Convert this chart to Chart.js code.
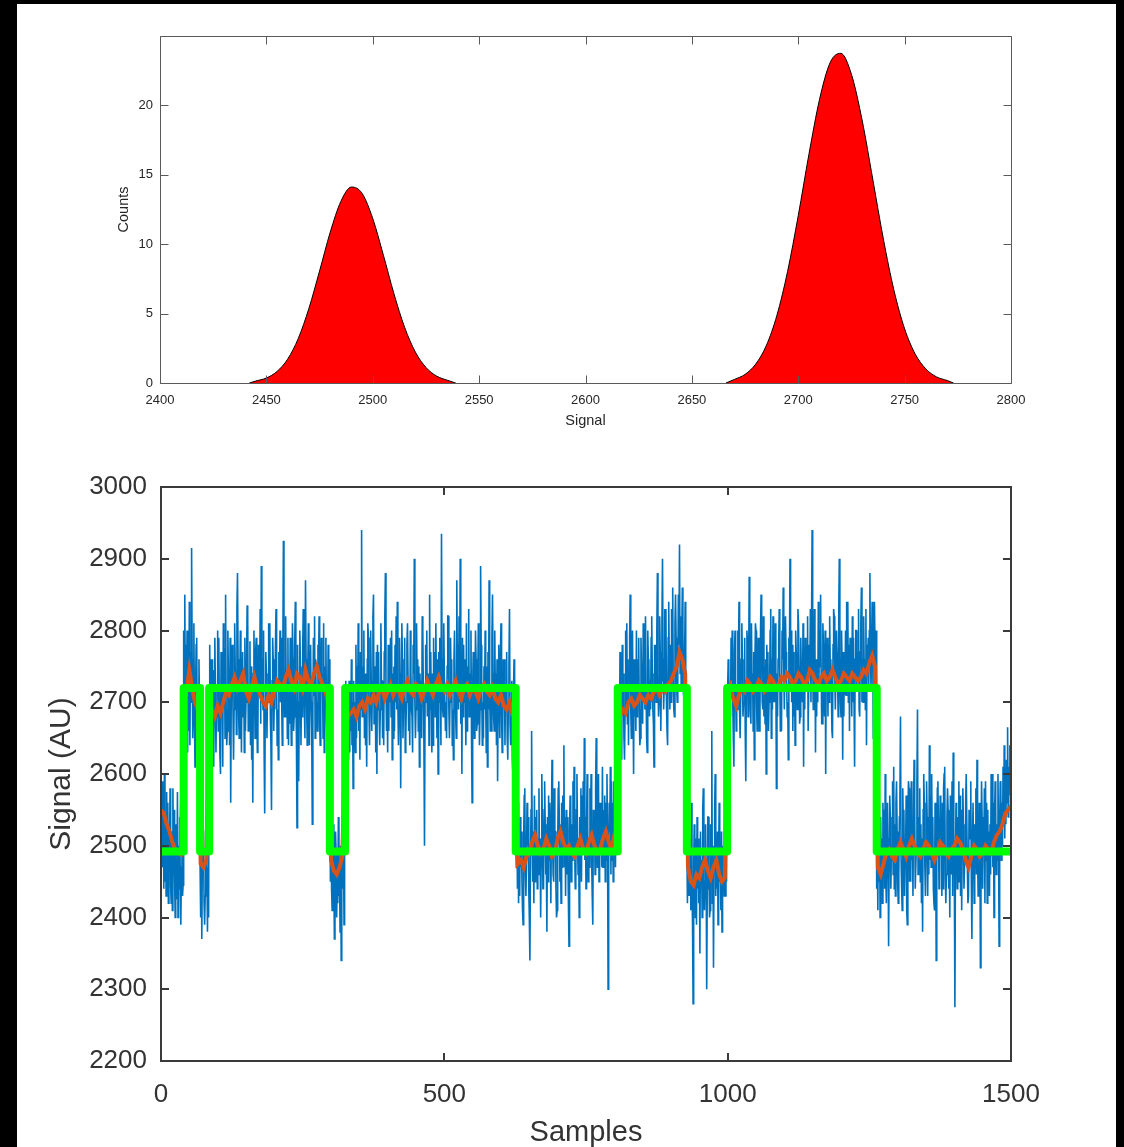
<!DOCTYPE html>
<html><head><meta charset="utf-8">
<script src="https://cdn.jsdelivr.net/npm/chart.js@4.4.1/dist/chart.umd.min.js"></script>
<style>
html,body{margin:0;padding:0;background:#000;width:1124px;height:1147px;overflow:hidden;}
#panel{position:absolute;left:17px;top:4px;width:1099px;height:1143px;background:#fff;}
canvas{position:absolute;left:0;}
#top{top:0;}
#bottom{top:440px;}
</style></head><body>
<div id="panel"></div>
<canvas id="top" width="1124" height="440" style="width:1124px;height:440px"></canvas>
<canvas id="bottom" width="1124" height="707" style="width:1124px;height:707px"></canvas>
<script>
// ---------- Top chart: histogram of signal levels ----------
const peak1X = [2442,2445,2450,2455,2460,2465,2470,2475,2480,2485,2490,2495,2500,2505,2510,2515,2520,2525,2530,2535,2539];
const peak1Y = [0,0.14,0.36,0.83,1.72,3.21,5.38,8.07,10.86,13.08,14.12,13.66,11.85,9.21,6.41,4.00,2.24,1.12,0.50,0.20,0];
const peak2X = [2666,2670,2675,2680,2685,2690,2695,2700,2705,2710,2715,2720,2725,2730,2735,2740,2745,2750,2755,2760,2765,2770,2773];
const peak2Y = [0,0.26,0.62,1.36,2.70,4.89,8.05,12.06,16.46,20.43,23.09,23.75,22.24,18.95,14.70,10.38,6.67,3.90,2.08,1.01,0.44,0.18,0];
const histXTicks = {min:2400, max:2800, step:50};
const histYTicks = {min:0, max:25, step:5};

// ---------- Bottom chart: time trace (one value per sample) ----------
const blueSignal = [
2545,2480,2590,2470,2560,2440,2600,2450,2540,2430,2575,2470,2560,2420,2530,2495,2580,2445,2420,2520,2410,2580,2460,2550,2455,2400,2530,2510,2425,2575,
2400,2500,2440,2540,2455,2390,2470,2560,2430,2445,2800,2680,
2850,2690,2780,2690,2800,2630,2760,2660,2840,2640,2770,2700,2915,2760,2650,2700,2810,2680,2610,2720,2780,2790,2650,2640,2670,2760,2690,
2470,2400,2545,2370,2490,2520,2520,2420,2390,2430,2540,2460,2480,2380,2470,2400,2700,2780,
2650,2760,2680,2760,2640,2745,2610,2710,2790,2720,2630,2700,2680,2800,2660,2790,2690,2625,2600,2770,2720,2740,2610,2810,2700,2775,2650,2850,2690,2640,
2660,2800,2735,2730,2640,2790,2560,2710,2760,2780,2690,2620,2690,2810,2745,2740,2655,2830,2880,2760,2680,2650,2720,2800,2720,2630,2760,2770,2680,2740,
2630,2790,2660,2700,2750,2835,2820,2660,2710,2680,2785,2640,2750,2620,2700,2560,2740,2800,2730,2650,2770,2790,2690,2630,2660,2780,2745,2720,2830,2670,
2890,2700,2760,2690,2800,2630,2545,2690,2770,2740,2650,2720,2700,2810,2760,2810,2680,2640,2550,2730,2790,2760,2660,2700,2690,2780,2830,2730,2640,2690,
2620,2770,2720,2800,2700,2790,2700,2640,2760,2925,2750,2680,2680,2820,2700,2740,2650,2790,2640,2730,2670,2790,2700,2640,2710,2810,2760,2660,2680,2780,
2840,2710,2650,2525,2780,2690,2590,2700,2800,2750,2640,2725,2680,2770,2830,2730,2690,2650,2870,2760,2700,2640,2740,2810,2720,2640,2770,2780,2700,2660,
2530,2690,2790,2710,2820,2650,2760,2700,2680,2660,2780,2750,2820,2670,2640,2700,2790,2720,2740,2650,2810,2630,2750,2700,2790,2680,2640,2680,2780,2720,
2760,2540,2450,
2560,2440,2410,2450,2530,2460,2370,2480,2520,2490,2400,2455,2420,2540,2430,2470,2380,2500,2340,2460,2525,2440,2510,2390,2520,2660,2730,
2600,2700,2640,2690,2620,2730,2630,2720,2660,2760,2640,2700,2580,2730,2670,2700,2630,2780,2650,2750,2690,2810,2660,2720,2620,2770,2690,2940,2680,2750,
2680,2800,2650,2740,2640,2700,2610,2760,2810,2790,2690,2640,2700,2800,2730,2660,2720,2820,2850,2670,2750,2720,2630,2770,2600,2780,2690,2770,2680,2640,
2690,2810,2730,2730,2650,2700,2640,2770,2820,2880,2720,2660,2710,2630,2780,2660,2760,2700,2790,2680,2800,2620,2740,2650,2750,2660,2780,2700,2820,2690,
2840,2700,2640,2680,2790,2740,2580,2720,2810,2760,2650,2700,2720,2790,2630,2650,2700,2780,2810,2730,2660,2700,2640,2800,2740,2690,2680,2630,2780,2740,
2900,2700,2650,2690,2810,2720,2760,2660,2750,2610,2740,2690,2730,2650,2820,2800,2710,2640,2500,2700,2780,2720,2800,2680,2680,2740,2640,2850,2690,2770,
2700,2630,2740,2640,2790,2710,2770,2680,2810,2720,2650,2760,2600,2770,2700,2790,2720,2640,2935,2760,2690,2680,2810,2740,2740,2660,2700,2650,2750,2820,
2820,2690,2650,2700,2790,2730,2760,2640,2690,2620,2760,2800,2730,2680,2650,2870,2740,2780,2690,2820,2700,2900,2670,2750,2600,2790,2680,2780,2700,2760,
2710,2640,2810,2660,2750,2700,2830,2680,2740,2700,2800,2650,2560,2720,2770,2740,2650,2700,2800,2760,2660,2670,2730,2810,2720,2640,2690,2890,2780,2720,
2640,2700,2650,2750,2690,2800,2700,2630,2750,2610,2770,2690,2870,2720,2660,2720,2660,2790,2850,2740,2680,2660,2800,2710,2740,2640,2760,2590,2710,2780,
2700,2650,2770,2810,2690,2630,2650,2760,2700,2760,2640,2720,2690,2770,2650,2620,2700,2750,2830,2670,2640,2680,2730,2620,2600,2710,2760,2740,2660,2500,
2470,2550,2440,2560,2420,2510,2430,2540,2470,2520,2450,2410,2390,2510,2570,2580,2460,2430,2480,2560,2500,2540,2440,2400,2340,2480,2550,2660,2520,2450,
2500,2420,2570,2450,2540,2480,2550,2440,2510,2460,2580,2470,2510,2400,2490,2600,2530,2440,2440,2550,2590,2530,2460,2480,2380,2540,2450,2570,2480,2560,
2490,2420,2540,2620,2510,2460,2450,2580,2520,2520,2440,2400,2410,2500,2580,2590,2530,2450,2500,2420,2560,2470,2570,2500,2640,2470,2540,2430,2550,2460,
2540,2490,2420,2360,2520,2570,2560,2450,2530,2480,2590,2490,2610,2500,2440,2450,2550,2600,2520,2460,2510,2400,2540,2480,2580,2450,2570,2490,2590,2500,
2650,2480,2540,2440,2530,2600,2530,2450,2500,2470,2580,2530,2600,2480,2430,2390,2550,2510,2550,2460,2580,2650,2520,2470,2520,2600,2450,2460,2560,2500,
2540,2470,2610,2470,2550,2490,2570,2450,2560,2480,2600,2510,2300,2470,2560,2520,2610,2460,2590,2480,2560,2450,2590,2520,2610,2470,2580,2500,2560,2700,
2650,2720,2640,2770,2660,2730,2620,2780,2690,2740,2650,2620,2690,2800,2720,2810,2670,2760,2640,2740,2790,2850,2690,2650,2760,2800,2700,2600,2760,2680,
2730,2660,2800,2680,2760,2700,2790,2690,2640,2650,2790,2740,2740,2670,2810,2700,2760,2690,2820,2720,2650,2630,2800,2760,2750,2680,2730,2690,2790,2820,
2740,2690,2670,2610,2780,2750,2780,2700,2800,2880,2740,2680,2700,2820,2770,2660,2730,2810,2900,2760,2690,2720,2830,2760,2830,2700,2660,2640,2790,2840,
2750,2690,2780,2700,2830,2740,2860,2720,2690,2680,2810,2850,2790,2720,2700,2740,2850,2780,2920,2740,2820,2720,2790,2860,2800,2710,2770,2760,2840,2700,
2690,2500,2420,
2520,2430,2500,2430,2510,2410,2560,2450,2390,2280,2470,2530,2470,2400,2510,2390,2540,2440,2510,2420,2480,2350,2520,2450,2480,2400,2550,2580,2450,2410,
2450,2530,2470,2300,2440,2540,2540,2460,2400,2410,2530,2470,2660,2420,2500,2330,2480,2550,2600,2430,2500,2440,2520,2390,2470,2560,2450,2470,2410,2520,
2380,2500,2440,2520,2430,2510,2430,2500,2450,
2620,2720,2760,2740,2650,2700,2680,2790,2730,2800,2700,2650,2610,2770,2800,2730,2660,2720,2690,2800,2760,2840,2690,2650,2650,2760,2810,2760,2680,2700,
2700,2790,2660,2590,2730,2800,2780,2680,2740,2875,2760,2690,2670,2810,2720,2740,2660,2770,2620,2750,2810,2800,2700,2660,2710,2790,2750,2660,2690,2800,
2850,2760,2700,2690,2820,2680,2750,2670,2760,2600,2780,2730,2770,2660,2700,2720,2800,2830,2650,2760,2690,2820,2700,2770,2700,2810,2750,2580,2740,2680,
2760,2780,2830,2730,2660,2720,2660,2800,2760,2860,2750,2690,2690,2820,2770,2740,2680,2700,2620,2790,2760,2900,2720,2800,2700,2780,2660,2770,2680,2740,
2640,2800,2770,2730,2690,2830,2810,2750,2670,2680,2790,2740,2750,2700,2810,2610,2770,2690,2790,2720,2780,2720,2820,2660,2660,2780,2750,2830,2700,2800,
2940,2760,2690,2700,2830,2780,2630,2760,2680,2760,2700,2840,2720,2800,2750,2850,2740,2670,2670,2810,2780,2740,2680,2800,2600,2770,2720,2790,2680,2780,
2700,2820,2750,2760,2720,2660,2650,2780,2830,2820,2740,2690,2690,2800,2770,2730,2680,2820,2900,2770,2700,2680,2800,2750,2620,2770,2680,2770,2710,2800,
2710,2840,2760,2840,2700,2780,2660,2790,2740,2750,2680,2820,2700,2790,2700,2610,2760,2800,2800,2720,2770,2730,2830,2690,2680,2770,2810,2860,2700,2760,
2700,2820,2740,2760,2690,2830,2640,2780,2750,2790,2720,2800,2880,2760,2720,2720,2840,2770,2650,2790,2840,2780,2720,2800,
2440,2520,2410,2560,2450,2530,2400,2540,2470,2510,2420,2560,2470,2550,2440,2600,2460,2420,2420,2560,2510,2360,2480,2570,2540,2440,2500,2480,2590,2460,
2610,2440,2530,2430,2560,2590,2520,2450,2420,2460,2540,2570,2680,2480,2440,2410,2580,2520,2550,2430,2480,2490,2570,2410,2390,2530,2590,2580,2450,2520,
2450,2590,2480,2520,2430,2550,2620,2560,2440,2440,2500,2590,2690,2460,2540,2470,2580,2450,2530,2420,2510,2380,2550,2600,2560,2470,2430,2500,2590,2540,
2430,2520,2460,2640,2480,2570,2470,2600,2500,2540,2440,2420,2410,2560,2530,2340,2480,2580,2590,2520,2440,2480,2570,2510,2520,2430,2560,2440,2580,2600,
2610,2460,2420,2460,2540,2580,2550,2440,2500,2400,2570,2460,2500,2590,2430,2630,2520,2460,2275,2480,2560,2520,2440,2540,2450,2590,2470,2570,2430,2550,
2410,2520,2580,2530,2440,2470,2480,2560,2600,2600,2470,2420,2430,2550,2510,2510,2590,2450,2370,2500,2560,2560,2420,2530,2470,2580,2460,2620,2490,2430,
2440,2560,2540,2330,2470,2590,2540,2440,2510,2490,2580,2420,2590,2480,2560,2420,2550,2470,2520,2430,2530,2460,2600,2500,2600,2470,2560,2400,2540,2590,
2550,2460,2530,2480,2600,2510,2360,2520,2590,2580,2480,2560,2500,2610,2530,2640,2510,2590,2530,2620,2560,2665,2540,2610,2590,2640,2570
];
const ORANGE_STEP = 5; // sample spacing of the smoothed trace values below
const smoothSignal = [
2550,2545,2530,2520,2505,2495,2490,2488,
2690,2715,2745,2720,2700,2690,
2475,2470,2480,
2700,2690,2680,2695,2685,2700,2715,2710,2725,2735,
2720,2730,2740,2715,2705,2720,2735,2720,2710,2700,
2695,2710,2700,2715,2730,2725,2720,2735,2745,2730,
2720,2740,2735,2720,2745,2730,2725,2740,2750,2735,
2725,2715,2700,
2480,2465,2460,2470,2485,
2660,2680,2685,2690,2680,2695,2700,2690,2705,2700,
2710,2700,2715,2720,2705,2715,2725,2710,2720,2715,
2705,2720,2730,2715,2710,2725,2720,2705,2715,2730,
2720,2710,2725,2735,2720,2715,2725,2710,2720,2730,
2715,2705,2720,2725,2710,2720,2715,2705,2720,2725,
2715,2710,2720,2705,2700,2710,2695,2690,2700,2685,
2690,
2475,2480,2470,2485,2490,2505,2515,2500,2490,2495,
2510,2500,2485,2490,2510,2520,2505,2495,2500,2490,
2485,2500,2510,2495,2490,2505,2515,2500,2490,2495,
2510,2520,2505,2495,2515,2525,
2680,2690,2685,2700,2705,2695,2700,2710,2705,2700,
2710,2705,2715,2720,2710,2720,2715,2725,2730,2740,
2750,2770,2760,2740,
2470,2450,2445,2460,2455,2470,2480,2465,2455,2470,2480,2460,2450,2455,
2700,2720,2705,2695,2710,2720,2715,2730,2725,2715,
2720,2730,2725,2715,2720,2735,2730,2720,2725,2735,
2730,2740,2735,2725,2730,2740,2735,2725,2730,2745,
2740,2730,2725,2735,2740,2730,2735,2745,2735,2725,
2730,2740,2735,2730,2740,2735,2730,2735,2745,2740,
2755,2765,2750,
2470,2460,2475,2490,2495,2485,2480,2495,2505,2495,
2485,2500,2510,2500,2490,2485,2495,2505,2500,2490,
2480,2490,2505,2500,2490,2485,2495,2500,2510,2505,
2495,2480,2470,2485,2500,2495,2485,2490,2500,2495,
2490,2505,2515,2520,2530,2545,2550,2555
];
const LOW_LEVEL = 2492, HIGH_LEVEL = 2720;
const stateStarts = [0, 40, 69, 85, 298, 325, 626, 806, 928, 999, 1263, 1500];
const stateLevels = [LOW_LEVEL, HIGH_LEVEL, LOW_LEVEL, HIGH_LEVEL, LOW_LEVEL, HIGH_LEVEL, LOW_LEVEL, HIGH_LEVEL, LOW_LEVEL, HIGH_LEVEL, LOW_LEVEL, LOW_LEVEL];
const traceXTicks = {min:0, max:1500, step:500};
const traceYTicks = {min:2200, max:3000, step:100};

// ---------- helpers ----------
const FONT = '"Liberation Sans", Arial, Helvetica, sans-serif';
const framePlugin = {
  id: 'frame',
  afterDatasetsDraw(chart, args, o) {
    const {ctx, chartArea: a} = chart;
    const xs = chart.scales.x, ys = chart.scales.y;
    ctx.save();
    ctx.strokeStyle = o.color;
    ctx.lineWidth = o.width;
    const off = (o.width % 2 === 1) ? 0.5 : 0;
    const L = Math.round(a.left) + off, R = Math.round(a.right) + off;
    const T = Math.round(a.top) + off, B = Math.round(a.bottom) + off;
    ctx.beginPath();
    xs.ticks.forEach(t => {
      const p = Math.round(xs.getPixelForValue(t.value)) + off;
      ctx.moveTo(p, B); ctx.lineTo(p, B - o.len);
      ctx.moveTo(p, T); ctx.lineTo(p, T + o.len);
    });
    ys.ticks.forEach(t => {
      const p = Math.round(ys.getPixelForValue(t.value)) + off;
      ctx.moveTo(L, p); ctx.lineTo(L + o.len, p);
      ctx.moveTo(R, p); ctx.lineTo(R - o.len, p);
    });
    ctx.rect(L, T, R - L, B - T);
    ctx.stroke();
    ctx.restore();
  }
};
const toXY = (xs, ys) => xs.map((x, i) => ({x, y: ys[i]}));
const plain = v => String(v);

// ---------- Top chart ----------
new Chart(document.getElementById('top'), {
  type: 'line',
  data: { datasets: [
    { data: toXY(peak1X, peak1Y), fill: 'origin', backgroundColor: '#ff0000', borderColor: '#000000', borderWidth: 1, pointRadius: 0, cubicInterpolationMode: 'monotone', clip: 0 },
    { data: toXY(peak2X, peak2Y), fill: 'origin', backgroundColor: '#ff0000', borderColor: '#000000', borderWidth: 1, pointRadius: 0, cubicInterpolationMode: 'monotone', clip: 0 }
  ]},
  options: {
    responsive: false, animation: false, devicePixelRatio: 1,
    layout: { padding: { top: 36, right: 113, left: 115, bottom: 0 } },
    plugins: { legend: { display: false }, tooltip: { enabled: false },
      frame: { color: '#5a5a5a', width: 1, len: 8 } },
    scales: {
      x: { type: 'linear', min: histXTicks.min, max: histXTicks.max,
        ticks: { stepSize: histXTicks.step, padding: 10, maxRotation: 0, autoSkip: false, color: '#262626', font: { family: FONT, size: 13 }, callback: plain },
        grid: { display: false, drawTicks: false }, border: { display: false },
        title: { display: true, text: 'Signal', color: '#262626', font: { family: FONT, size: 14.5 }, padding: { top: 0, bottom: 10 } },
        afterFit: s => { s.height = 57; } },
      y: { type: 'linear', min: histYTicks.min, max: histYTicks.max,
        ticks: { stepSize: histYTicks.step, padding: 7, autoSkip: false, color: '#262626', font: { family: FONT, size: 13 },
          callback: v => (v === histYTicks.max ? '' : String(v)) },
        grid: { display: false, drawTicks: false }, border: { display: false },
        title: { display: true, text: 'Counts', color: '#262626', font: { family: FONT, size: 14.5 }, padding: { top: 0, bottom: 0 } },
        afterFit: s => { s.width = 45; } }
    }
  },
  plugins: [framePlugin]
});

// ---------- Bottom chart ----------
new Chart(document.getElementById('bottom'), {
  type: 'line',
  data: { datasets: [
    { data: stateStarts.map((x, i) => ({x, y: stateLevels[i]})), stepped: true, borderColor: '#00ff00', borderWidth: 8, pointRadius: 0, fill: false, clip: 0, order: 1, borderJoinStyle: 'round' },
    { data: smoothSignal.map((y, i) => ({x: i * ORANGE_STEP, y})), borderColor: '#d95319', borderWidth: 4, pointRadius: 0, fill: false, clip: 0, order: 2, tension: 0 },
    { data: blueSignal.map((y, i) => ({x: i, y})), borderColor: '#0072bd', borderWidth: 1.6, pointRadius: 0, fill: false, clip: 0, order: 3, tension: 0 }
  ]},
  options: {
    responsive: false, animation: false, devicePixelRatio: 1,
    layout: { padding: { top: 47, right: 113, left: 47, bottom: 0 } },
    plugins: { legend: { display: false }, tooltip: { enabled: false },
      frame: { color: '#3a3a3a', width: 2, len: 8 } },
    scales: {
      x: { type: 'linear', min: traceXTicks.min, max: traceXTicks.max,
        ticks: { stepSize: traceXTicks.step, padding: 18, maxRotation: 0, autoSkip: false, color: '#333333', font: { family: FONT, size: 26 }, callback: plain },
        grid: { display: false, drawTicks: false }, border: { display: false },
        title: { display: true, text: 'Samples', color: '#333333', font: { family: FONT, size: 29, lineHeight: 1 }, padding: { top: 0, bottom: 0 } },
        afterFit: s => { s.height = 86; } },
      y: { type: 'linear', min: traceYTicks.min, max: traceYTicks.max,
        ticks: { stepSize: traceYTicks.step, padding: 14, autoSkip: false, color: '#333333', font: { family: FONT, size: 26 }, callback: plain },
        grid: { display: false, drawTicks: false }, border: { display: false },
        title: { display: true, text: 'Signal (AU)', color: '#333333', font: { family: FONT, size: 30, lineHeight: 1 }, padding: { top: 0, bottom: 0 } },
        afterFit: s => { s.width = 114; } }
    }
  },
  plugins: [framePlugin]
});
</script>
</body></html>
